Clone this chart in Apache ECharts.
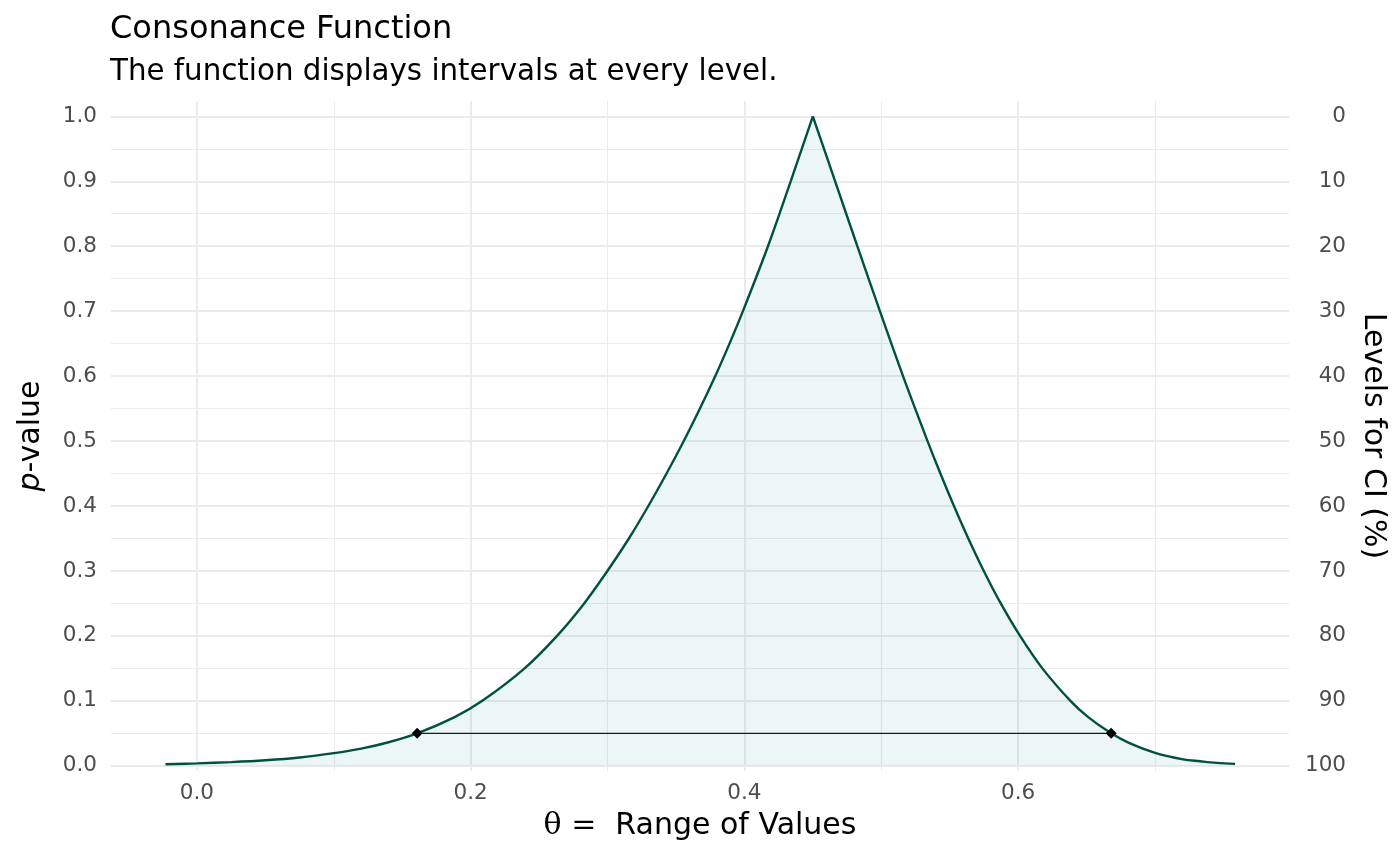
<!DOCTYPE html>
<html>
<head>
<meta charset="utf-8">
<script src="https://cdn.jsdelivr.net/npm/echarts@6/dist/echarts.min.js"></script>
<style>
html,body{margin:0;padding:0;background:#fff;}
#chart{width:1400px;height:866px;}
</style>
</head>
<body>
<div id="chart"></div>
<script>
// Consonance function: left branch (up to the point estimate) and right branch
const leftTheta  = [-0.023, 0.0, 0.025, 0.05, 0.075, 0.1, 0.12, 0.1386, 0.1609, 0.1883, 0.2085, 0.2394, 0.2631, 0.2829, 0.2999, 0.3156, 0.3298, 0.3431, 0.3557, 0.3675, 0.3787, 0.3891, 0.3989, 0.4172, 0.4338, 0.45];
const leftP      = [0.0025, 0.0038, 0.0057, 0.0085, 0.0128, 0.0195, 0.0265, 0.0355, 0.05, 0.075, 0.1, 0.15, 0.2, 0.25, 0.3, 0.35, 0.4, 0.45, 0.5, 0.55, 0.6, 0.65, 0.7, 0.8, 0.9, 1.0];
const rightTheta = [0.45, 0.4663, 0.4825, 0.499, 0.5159, 0.5338, 0.5432, 0.5531, 0.5636, 0.5749, 0.5873, 0.6014, 0.6177, 0.6382, 0.6512, 0.668, 0.6813, 0.7001, 0.7205, 0.733, 0.745, 0.7585];
const rightP     = [1.0, 0.9, 0.8, 0.7, 0.6, 0.5, 0.45, 0.4, 0.35, 0.3, 0.25, 0.2, 0.15, 0.1, 0.075, 0.05, 0.035, 0.02, 0.01, 0.007, 0.0045, 0.003];

// 95% interval
const intervalTheta = [0.1609, 0.668];
const intervalP = [0.05, 0.05];

// tick labels
const xMajorTicks = [0.0, 0.2, 0.4, 0.6];
const xMinorTicks = [0.1, 0.3, 0.5, 0.7];
const yMajorTicks = [0.0, 0.1, 0.2, 0.3, 0.4, 0.5, 0.6, 0.7, 0.8, 0.9, 1.0];
const yMinorTicks = [0.05, 0.15, 0.25, 0.35, 0.45, 0.55, 0.65, 0.75, 0.85, 0.95];
const ciTicks = [0, 10, 20, 30, 40, 50, 60, 70, 80, 90, 100];

const X_MIN = -0.0628, X_MAX = 0.7979;
const Y_MIN = -0.008, Y_MAX = 1.0236;

const FONT = 'DejaVu Sans';
const gridMajor = {show: true, lineStyle: {color: '#ebebeb', width: 2}};
const gridMinor = {show: true, lineStyle: {color: '#ebebeb', width: 1.1}};
const curveLine = {color: '#00513d', width: 2.4};
const curveArea = {color: 'rgba(25,145,135,0.115)'};

const chart = echarts.init(document.getElementById('chart'), null, {renderer: 'canvas'});
chart.setOption({
  animation: false,
  backgroundColor: '#ffffff',
  textStyle: {fontFamily: FONT},
  title: [
    {text: 'Consonance Function', left: 110, top: 14, padding: 0,
     textStyle: {fontFamily: FONT, fontSize: 32, fontWeight: 'normal', color: '#000'}},
    {text: 'The function displays intervals at every level.', left: 110, top: 58, padding: 0,
     textStyle: {fontFamily: FONT, fontSize: 29.3, fontWeight: 'normal', color: '#000'}}
  ],
  grid: {left: 111, right: 111, top: 101, bottom: 95, containLabel: false},
  xAxis: [
    {
      type: 'value', min: X_MIN, max: X_MAX, position: 'bottom',
      name: '{s|θ =}  Range of Values', nameLocation: 'middle', nameGap: 40,
      nameTextStyle: {fontFamily: FONT, fontSize: 30, color: '#000',
        rich: {s: {fontFamily: 'DejaVu Serif', fontSize: 30, color: '#000'}}},
      axisLine: {show: false},
      axisTick: {show: false, customValues: xMajorTicks},
      axisLabel: {customValues: xMajorTicks, color: '#4d4d4d', fontSize: 21.5, fontFamily: FONT, margin: 11,
        formatter: v => v.toFixed(1)},
      splitLine: gridMajor
    },
    {
      type: 'value', min: X_MIN, max: X_MAX, position: 'bottom',
      axisLine: {show: false},
      axisTick: {show: false, customValues: xMinorTicks},
      axisLabel: {show: false, customValues: xMinorTicks},
      splitLine: gridMinor
    }
  ],
  yAxis: [
    {
      type: 'value', min: Y_MIN, max: Y_MAX, position: 'left',
      name: '{i|p}-value', nameLocation: 'middle', nameGap: 65, nameRotate: 90,
      nameTextStyle: {fontFamily: FONT, fontSize: 30, color: '#000',
        rich: {i: {fontFamily: FONT, fontStyle: 'italic', fontSize: 30, color: '#000'}}},
      axisLine: {show: false},
      axisTick: {show: false, customValues: yMajorTicks},
      axisLabel: {customValues: yMajorTicks, color: '#4d4d4d', fontSize: 21.5, fontFamily: FONT, margin: 14,
        formatter: v => v.toFixed(1)},
      splitLine: gridMajor
    },
    {
      type: 'value', min: (1 - Y_MAX) * 100, max: (1 - Y_MIN) * 100, inverse: true, position: 'right',
      name: 'Levels for CI (%)', nameLocation: 'middle', nameGap: 69, nameRotate: -90,
      nameTextStyle: {fontFamily: FONT, fontSize: 30, color: '#000'},
      axisLine: {show: false},
      axisTick: {show: false, customValues: ciTicks},
      axisLabel: {customValues: ciTicks, color: '#4d4d4d', fontSize: 21.5, fontFamily: FONT, margin: 57, align: 'right'},
      splitLine: {show: false}
    },
    {
      type: 'value', min: Y_MIN, max: Y_MAX, position: 'left',
      axisLine: {show: false},
      axisTick: {show: false, customValues: yMinorTicks},
      axisLabel: {show: false, customValues: yMinorTicks},
      splitLine: gridMinor
    }
  ],
  series: [
    {
      type: 'line', xAxisIndex: 0, yAxisIndex: 0,
      data: leftTheta.map((t, i) => [t, leftP[i]]),
      showSymbol: false, symbol: 'none', smooth: 0.35,
      lineStyle: curveLine, areaStyle: curveArea, z: 3
    },
    {
      type: 'line', xAxisIndex: 0, yAxisIndex: 0,
      data: rightTheta.map((t, i) => [t, rightP[i]]),
      showSymbol: false, symbol: 'none', smooth: 0.35,
      lineStyle: curveLine, areaStyle: curveArea, z: 3
    },
    {
      type: 'line', xAxisIndex: 0, yAxisIndex: 0,
      data: intervalTheta.map((t, i) => [t, intervalP[i]]),
      symbol: 'diamond', symbolSize: 11, showSymbol: true,
      lineStyle: {color: '#1a1a1a', width: 1.4},
      itemStyle: {color: '#000'},
      z: 4
    }
  ]
});
</script>
</body>
</html>
